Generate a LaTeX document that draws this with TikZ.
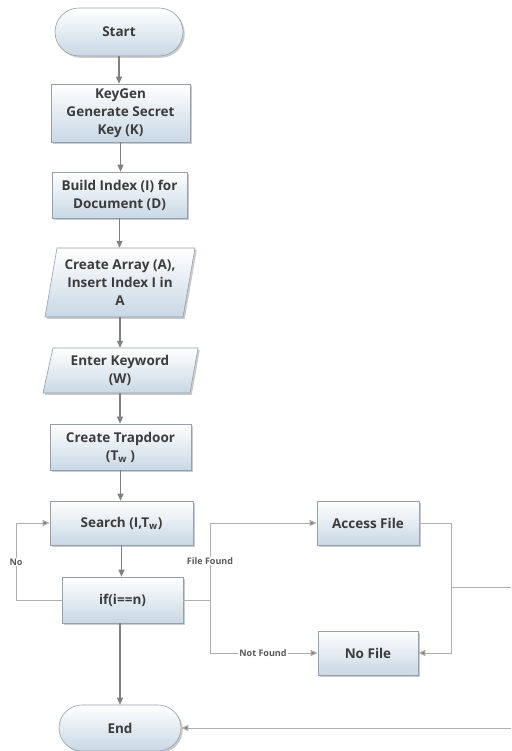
\documentclass[tikz,border=0pt]{standalone}
\usepackage{fontspec}
\setmainfont{Open Sans}
\usetikzlibrary{shapes.misc,shadows,arrows.meta}
\definecolor{boxblue}{RGB}{200,216,228}
\definecolor{boxline}{RGB}{150,160,170}
\definecolor{txt}{RGB}{60,60,60}
\definecolor{arrowgray}{RGB}{128,128,128}
\definecolor{conngray}{RGB}{175,175,175}
\begin{document}
\begin{tikzpicture}[x=1pt,y=-1pt,
  boxbase/.style={draw=boxline,line width=0.6pt,top color=white,bottom color=boxblue,
    drop shadow={shadow xshift=1.8pt,shadow yshift=-1.8pt,fill=black!40},
    text=txt,font=\fontsize{13.5}{18}\selectfont\bfseries,align=center,inner sep=2pt},
  procbox/.style={boxbase,rectangle},
  termbox/.style={boxbase,rounded rectangle},
  plain/.style={text=txt,font=\fontsize{13.5}{18}\selectfont\bfseries,align=center,inner sep=0pt},
  flow/.style={draw=arrowgray,line width=1.1pt,-{Triangle[length=7pt,width=6pt]}},
  conn/.style={draw=conngray,line width=1pt},
  connarrow/.style={conn,-{Triangle[length=7pt,width=6pt,fill=arrowgray]}},
  lbl/.style={fill=white,text=txt!85,font=\fontsize{9}{10}\selectfont\bfseries,inner sep=1pt}
]
\useasboundingbox (0,0) rectangle (511,751);
\fill[white] (0,0) rectangle (511,751);

\node[termbox,minimum width=132pt,minimum height=48pt] (start) at (119,32) {Start};
\node[procbox,minimum width=139pt,minimum height=58pt] (keygen) at (120.5,113) {KeyGen\\Generate Secret\\Key (K)};
\node[procbox,minimum width=135pt,minimum height=46pt] (build) at (119.5,195) {Build Index (I) for\\Document (D)};

% parallelogram: Create Array
\path[boxbase] (57,248) -- (195,248) -- (183,317) -- (45,317) -- cycle;
\node[plain,minimum height=69pt] (array) at (120,282.5) {Create Array (A),\\Insert Index I in\\A};
% parallelogram: Enter Keyword
\path[boxbase] (53,348) -- (198,348) -- (190,393) -- (43,393) -- cycle;
\node[plain,minimum height=45pt] (keyword) at (120,370.5) {Enter Keyword\\(W)};

\node[procbox,minimum width=141pt,minimum height=46pt] (trap) at (120.5,447) {Create Trapdoor\\(T\textsubscript{w} )};
\node[procbox,minimum width=143pt,minimum height=44pt] (search) at (121.5,523) {Search (I,T\textsubscript{w})};
\node[procbox,minimum width=121pt,minimum height=46pt] (ifn) at (122.5,600) {if(i==n)};
\node[termbox,minimum width=126pt,minimum height=46pt] (endn) at (120,728) {End};
\node[procbox,minimum width=102pt,minimum height=44pt] (access) at (368,523) {Access File};
\node[procbox,minimum width=100pt,minimum height=44pt] (nofile) at (368,653) {No File};

\coordinate (r1) at (511,587);
\coordinate (r2) at (511,728);

\draw[flow] (start.south) -- (start.south |- keygen.north);
\draw[flow] (keygen.south) -- (keygen.south |- build.north);
\draw[flow] (build.south) -- (build.south |- array.north);
\draw[flow] (array.south) -- (array.south |- keyword.north);
\draw[flow] (keyword.south) -- (keyword.south |- trap.north);
\draw[flow] (trap.south) -- (trap.south |- search.north);
\draw[flow] (search.south) -- (search.south |- ifn.north);
\draw[flow] (ifn.south -| endn.north) -- (endn.north);

\draw[connarrow] (ifn.west) -- (16,600) |- (search.west);
\node[lbl] at (16,562) {No};

\draw[connarrow] (ifn.east) -- (210,600) |- (access.west);
\node[lbl] at (210,561) {File Found};
\draw[connarrow] (210,600) |- (nofile.west);
\node[lbl] at (263,653) {Not Found};

\draw[connarrow] (access.east) -- (451,523) |- (nofile.east);
\draw[conn] (451,587) -- (r1);
\draw[connarrow] (r2) -- (endn.east);
\end{tikzpicture}
\end{document}
